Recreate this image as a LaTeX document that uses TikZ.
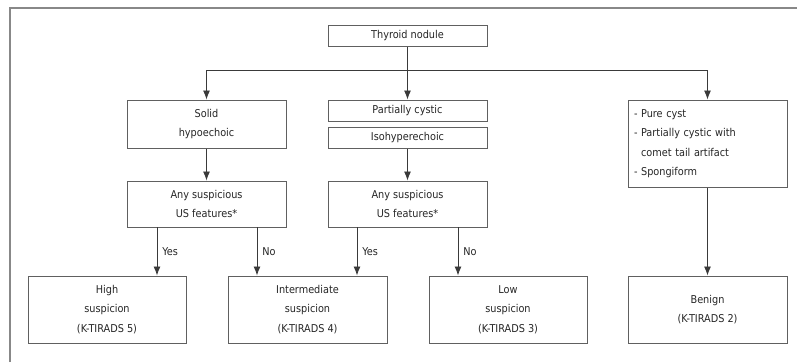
\documentclass[tikz,border=0pt]{standalone}
\usepackage{fontspec}
\setmainfont{DejaVu Sans Condensed}
\usetikzlibrary{arrows.meta}
\definecolor{boxline}{HTML}{606060}
\definecolor{frameline}{HTML}{888888}
\definecolor{arrowline}{HTML}{3A3A3A}
\definecolor{txt}{HTML}{262626}
\tikzset{
  box/.style={draw=boxline, line width=1pt, fill=white, inner sep=0pt,
    align=center, text=txt, font=\fontsize{10.8}{19.5}\selectfont},
  link/.style={draw=arrowline, line width=0.9pt, -{Latex[length=9pt,width=7pt]}},
  plain/.style={draw=arrowline, line width=0.9pt},
  answer/.style={anchor=west, text=txt, font=\fontsize{10.8}{12}\selectfont, inner sep=0pt},
}
\begin{document}
\begin{tikzpicture}[x=1pt,y=-1pt]
\useasboundingbox (0,0) rectangle (797,362);
% outer frame (left and top edges)
\draw[frameline, line width=1.3pt] (10,362) -- (10,8) -- (797,8);

% first level
\node[box, minimum width=159pt, minimum height=21pt] (nod) at (407.5,35.5) {Thyroid nodule};

% second level
\node[box, minimum width=159pt, minimum height=48pt] (sol) at (206.5,124) {Solid\\hypoechoic};
\node[box, minimum width=159pt, minimum height=21pt] (pc) at (407.5,110.5) {Partially cystic};
\node[box, minimum width=159pt, minimum height=21pt] (iso) at (407.5,137.5) {Isohyperechoic};
\node[box, minimum width=159pt, minimum height=87pt, text width=147pt, align=left] (cy) at (707.5,143.5)
  {- Pure cyst\\- Partially cystic with\\\phantom{- }comet tail artifact\\- Spongiform};

% third level
\node[box, minimum width=159pt, minimum height=46pt] (q1) at (206.5,204) {Any suspicious\\US features*};
\node[box, minimum width=159pt, minimum height=46pt] (q2) at (407.5,204) {Any suspicious\\US features*};

% categories
\node[box, minimum width=158pt, minimum height=67pt] (hi) at (107,309.5) {High\\suspicion\\(K-TIRADS 5)};
\node[box, minimum width=159pt, minimum height=67pt] (im) at (307.5,309.5) {Intermediate\\suspicion\\(K-TIRADS 4)};
\node[box, minimum width=158pt, minimum height=67pt] (lo) at (508,309.5) {Low\\suspicion\\(K-TIRADS 3)};
\node[box, minimum width=159pt, minimum height=67pt] (be) at (707.5,309.5) {Benign\\(K-TIRADS 2)};

% branching from the nodule
\coordinate (split) at (407.5,70);
\draw[plain] (nod.south) -- (split);
\draw[link] (split) -- (pc.north);
\draw[link] (split) -| (sol.north);
\draw[link] (split) -| (cy.north);

% down to the questions
\draw[link] (sol.south) -- (q1.north);
\draw[link] (iso.south) -- (q2.north);
\draw[link] (cy.south) -- (be.north);

% answers
\draw[link] (157,227) coordinate (y1s) -- (y1s |- hi.north) node[answer, pos=0.5, xshift=5pt] (y1) {Yes};
\draw[link] (257,227) coordinate (n1s) -- (n1s |- im.north) node[answer, pos=0.5, xshift=5pt] (n1) {No};
\draw[link] (357,227) coordinate (y2s) -- (y2s |- im.north) node[answer, pos=0.5, xshift=5pt] (y2) {Yes};
\draw[link] (458,227) coordinate (n2s) -- (n2s |- lo.north) node[answer, pos=0.5, xshift=5pt] (n2) {No};
\end{tikzpicture}
\end{document}
